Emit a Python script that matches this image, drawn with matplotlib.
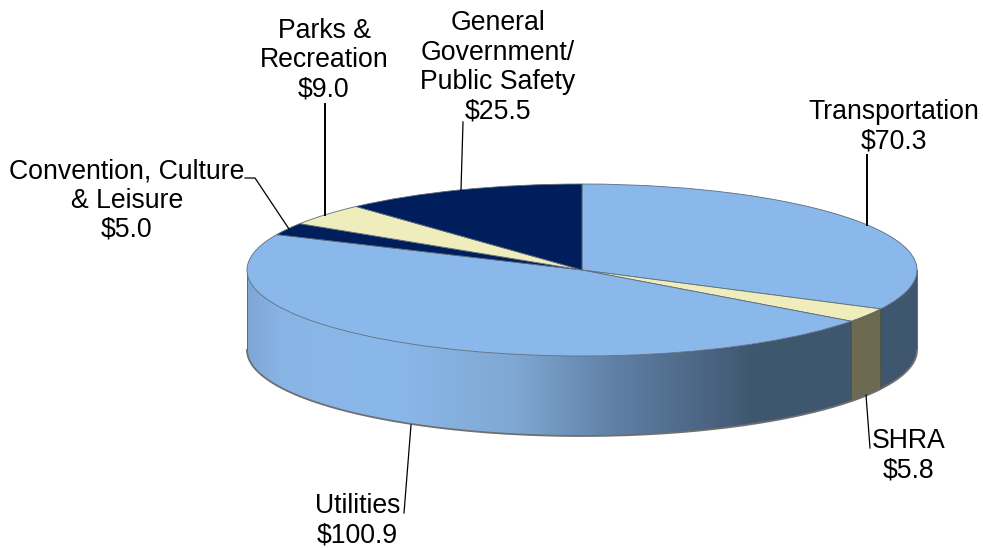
import numpy as np
import matplotlib
matplotlib.use('Agg')
import matplotlib.pyplot as plt
from matplotlib.colors import LinearSegmentedColormap
from matplotlib.patches import PathPatch
from matplotlib.path import Path
from matplotlib.transforms import Affine2D

plt.rcParams['font.family'] = ['Liberation Sans', 'DejaVu Sans']

names = ['Transportation', 'SHRA', 'Utilities', 'Convention, Culture\n& Leisure',
         'Parks &\nRecreation', 'General\nGovernment/\nPublic Safety']
values = [70.3, 5.8, 100.9, 5.0, 9.0, 25.5]
top_colors = ['#8AB8EA', '#EEEDBB', '#8AB8EA', '#001E5C', '#EEEDBB', '#001E5C']

# pie geometry, in pixels
cx, cy = 582, 270
rx, ry = 335, 86
depth = 80

fig = plt.figure(figsize=(9.83, 5.48), dpi=100)
ax = fig.add_axes([0, 0, 1, 1])


def rim(deg, drop=0):
    # deg runs clockwise from twelve o'clock
    t = np.radians(deg)
    return cx + rx * np.sin(t), cy - ry * np.cos(t) + drop


def wall_path(d0, d1):
    d = np.linspace(d0, d1, 120)
    xt, yt = rim(d)
    xb, yb = rim(d[::-1], depth)
    return Path(np.r_[np.c_[xt, yt], np.c_[xb, yb], [[xt[0], yt[0]]]])


edges = np.r_[0, np.cumsum(values)] / np.sum(values) * 360

wedges, _ = ax.pie(values, colors=top_colors, startangle=90, counterclock=False,
                   wedgeprops=dict(edgecolor='#5c6b7c', linewidth=0.6, zorder=5))
squash = Affine2D().scale(rx, -ry).translate(cx, cy) + ax.transData
for w in wedges:
    w.set_transform(squash)

ax.set_aspect('auto')
ax.set_xlim(0, 983)
ax.set_ylim(548, 0)
ax.axis('off')

# side wall, shaded left to right
shade = LinearSegmentedColormap.from_list('wall', [
    (0.0, '#7FA7D6'), (0.05, '#89B5E6'), (0.22, '#8AB8EA'), (0.4, '#7FA8D2'),
    (0.55, '#5F80A6'), (0.76, '#3F566F'), (1.0, '#3F5670')])
grad = ax.imshow(np.linspace(0, 1, 400)[None, :], cmap=shade, aspect='auto',
                 extent=(cx - rx, cx + rx, cy + ry + depth, cy), zorder=1)
grad.set_clip_path(PathPatch(wall_path(90, 270), transform=ax.transData))
ax.set_xlim(0, 983)
ax.set_ylim(548, 0)

# the SHRA slice has its own flat wall colour
ax.add_patch(PathPatch(wall_path(edges[1], edges[2]), facecolor='#6C6A50',
                       edgecolor='#4a4a3c', linewidth=0.6, zorder=2))

# outline under the wall and at its two ends
d = np.linspace(90, 270, 300)
xb, yb = rim(d, depth)
ax.plot(xb, yb, color='#6f6f6f', lw=1.3, zorder=3)
for end in (90, 270):
    xe, ye = rim(end)
    ax.plot([xe, xe], [ye, ye + depth], color='#5c6b7c', lw=0.7, zorder=3)

# slice labels
label_style = dict(ha='center', va='center', fontsize=19.2, linespacing=1.17)
ax.text(894, 127, f'{names[0]}\n${values[0]:.1f}', **label_style)
ax.text(909, 455.5, f'{names[1]}\n${values[1]:.1f}', **label_style)
ax.text(357.5, 521, f'{names[2]}\n${values[2]:.1f}', **label_style)
ax.text(127, 200.5, f'{names[3]}\n${values[3]:.1f}', **label_style)
ax.text(324, 60, f'{names[4]}\n${values[4]:.1f}', **label_style)
ax.text(498, 67.5, f'{names[5]}\n${values[5]:.1f}', **label_style)

# leader lines
thin = [[(866, 395), (870, 448)], [(411, 425), (404, 513)],
        [(245, 178), (255, 178), (289, 229)], [(463, 122), (461, 190)]]
thick = [[(867, 155), (867, 225)], [(325, 104), (325, 215)]]
for pts in thin:
    xs, ys = zip(*pts)
    ax.plot(xs, ys, color='black', lw=0.9, zorder=6)
for pts in thick:
    xs, ys = zip(*pts)
    ax.plot(xs, ys, color='black', lw=1.4, zorder=6)

fig.savefig('out.png', dpi=100)
